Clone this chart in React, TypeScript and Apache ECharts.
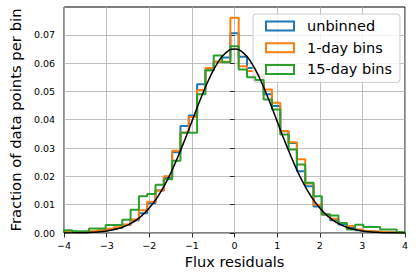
import React, { useEffect, useRef } from 'react';
import * as echarts from 'echarts';

// Histogram bins: 41 equal bins spanning the x range
const BIN_MIN = -4;
const BIN_MAX = 4;
const BIN_COUNT = 41;

const seriesNames = ['unbinned', '1-day bins', '15-day bins'];
const seriesColors = ['#1f77b4', '#ff7f0e', '#2ca02c'];

const unbinned = [
  0.0005, 0.0003, 0.0003, 0.0005, 0.0008, 0.0012, 0.0018, 0.0028, 0.0045, 0.0070,
  0.0105, 0.0150, 0.0195, 0.0285, 0.0378, 0.0415, 0.0525, 0.0575, 0.0605, 0.0620,
  0.0705,
  0.0622, 0.0583, 0.0556, 0.0490, 0.0448, 0.0359, 0.0318, 0.0218, 0.0165, 0.0094,
  0.0065, 0.0045, 0.0030, 0.0018, 0.0010, 0.0006, 0.0004, 0.0003, 0.0002, 0.0002,
];

const oneDay = [
  0.0006, 0.0003, 0.0003, 0.0006, 0.0010, 0.0015, 0.0020, 0.0030, 0.0048, 0.0080,
  0.0110, 0.0150, 0.0200, 0.0290, 0.0355, 0.0410, 0.0505, 0.0583, 0.0605, 0.0605,
  0.0760,
  0.0589, 0.0572, 0.0554, 0.0507, 0.0460, 0.0360, 0.0320, 0.0260, 0.0175, 0.0100,
  0.0065, 0.0050, 0.0035, 0.0025, 0.0012, 0.0006, 0.0004, 0.0003, 0.0002, 0.0002,
];

const fifteenDay = [
  0.0010, 0.0006, 0.0006, 0.0016, 0.0016, 0.0028, 0.0028, 0.0047, 0.0082, 0.0130,
  0.0138, 0.0170, 0.0190, 0.0255, 0.0354, 0.0354, 0.0490, 0.0575, 0.0627, 0.0603,
  0.0659,
  0.0577, 0.0550, 0.0540, 0.0471, 0.0436, 0.0348, 0.0295, 0.0242, 0.0177, 0.0130,
  0.0065, 0.0062, 0.0035, 0.0012, 0.0029, 0.0021, 0.0021, 0.0012, 0.0012, 0.0003,
];

// Model curve
const curveX = [
  -4, -3.8, -3.6, -3.4, -3.2, -3, -2.8, -2.6, -2.4, -2.2, -2, -1.8, -1.6, -1.4, -1.2, -1,
  -0.8, -0.6, -0.4, -0.2, 0, 0.2, 0.4, 0.6, 0.8, 1, 1.2, 1.4, 1.6, 1.8, 2, 2.2, 2.4, 2.6,
  2.8, 3, 3.2, 3.4, 3.6, 3.8, 4,
];
const curveY = [
  0.00002, 0.00005, 0.0001, 0.0002, 0.00039, 0.00072, 0.00129, 0.00221, 0.00365, 0.00578,
  0.0088, 0.01286, 0.01807, 0.0244, 0.03164, 0.03942, 0.0472, 0.05429, 0.06, 0.06371,
  0.065,
  0.06371, 0.06, 0.05429, 0.0472, 0.03942, 0.03164, 0.0244, 0.01807, 0.01286, 0.0088,
  0.00578, 0.00365, 0.00221, 0.00129, 0.00072, 0.00039, 0.0002, 0.0001, 0.00005, 0.00002,
];

const xTicks = [-4, -3, -2, -1, 0, 1, 2, 3, 4];
const yTicks = [0, 0.01, 0.02, 0.03, 0.04, 0.05, 0.06, 0.07];
const Y_MAX = 0.0798;

const FONT = 'DejaVu Sans';

function stepPoints(values: number[]): number[][] {
  const w = (BIN_MAX - BIN_MIN) / BIN_COUNT;
  const pts: number[][] = [[BIN_MIN, 0]];
  values.forEach((v, i) => pts.push([BIN_MIN + i * w, v]));
  pts.push([BIN_MAX, values[values.length - 1]]);
  pts.push([BIN_MAX, 0]);
  return pts;
}

const fmtX = (v: number) => (v < 0 ? '\u2212' + Math.abs(v) : String(v));

export default function App() {
  const ref = useRef<HTMLDivElement>(null);
  useEffect(() => {
    if (!ref.current) return;
    const chart = echarts.init(ref.current, undefined, { renderer: 'svg' });
    const hist = [unbinned, oneDay, fifteenDay];
    const series: any[] = hist.map((vals, i) => ({
      type: 'line',
      name: seriesNames[i],
      step: 'end',
      data: stepPoints(vals),
      symbol: 'none',
      lineStyle: { color: seriesColors[i], width: 2 },
      itemStyle: { color: seriesColors[i] },
      z: 2 + i,
    }));
    series.push({
      type: 'line',
      name: 'model',
      data: curveX.map((x, i) => [x, curveY[i]]),
      smooth: true,
      symbol: 'none',
      lineStyle: { color: '#000', width: 1.5 },
      z: 6,
    });
    chart.setOption({
      animation: false,
      backgroundColor: '#fff',
      grid: {
        left: 57, right: 11, top: 7, bottom: 44,
        show: true, borderColor: '#000', borderWidth: 1, backgroundColor: 'transparent',
      },
      legend: {
        orient: 'vertical',
        left: 253,
        top: 14,
        padding: [4, 8, 5, 12],
        itemWidth: 28,
        itemHeight: 9,
        itemGap: 5.7,
        backgroundColor: 'rgba(255,255,255,0.8)',
        borderColor: '#cccccc',
        borderWidth: 1,
        borderRadius: 3,
        selectedMode: false,
        textStyle: { fontSize: 14.5, fontFamily: FONT, color: '#000', lineHeight: 16, padding: [0, 0, 0, 8] },
        data: seriesNames.map((n, i) => ({
          name: n,
          icon: 'rect',
          itemStyle: { color: 'rgba(0,0,0,0)', borderColor: seriesColors[i], borderWidth: 2 },
        })),
      },
      xAxis: {
        type: 'value',
        min: BIN_MIN,
        max: BIN_MAX,
        interval: 1,
        name: 'Flux residuals',
        nameLocation: 'middle',
        nameGap: 18,
        nameTextStyle: { fontSize: 14.5, fontFamily: FONT, color: '#000' },
        axisLine: { show: false },
        axisTick: { show: true, inside: false, length: 4.5, lineStyle: { color: '#000', width: 0.8 }, customValues: xTicks },
        axisLabel: { color: '#000', fontSize: 9.5, fontFamily: FONT, margin: 7, formatter: fmtX, customValues: xTicks },
        splitLine: { show: true, lineStyle: { color: '#b0b0b0', width: 0.8 } },
      },
      yAxis: {
        type: 'value',
        min: 0,
        max: Y_MAX,
        interval: 0.01,
        name: 'Fraction of data points per bin',
        nameLocation: 'middle',
        nameRotate: 90,
        nameGap: 37,
        nameTextStyle: { fontSize: 14.8, fontFamily: FONT, color: '#000' },
        axisLine: { show: false },
        axisTick: { show: true, inside: false, length: 4.5, lineStyle: { color: '#000', width: 0.8 }, customValues: yTicks },
        axisLabel: {
          color: '#000', fontSize: 9.5, fontFamily: FONT, margin: 9,
          formatter: (v: number) => v.toFixed(2), customValues: yTicks,
        },
        splitLine: { show: true, lineStyle: { color: '#b0b0b0', width: 0.8 } },
      },
      series,
    });
    return () => chart.dispose();
  }, []);
  return <div ref={ref} style={{ position: 'absolute', left: 0, top: 0, width: 416, height: 277 }} />;
}
